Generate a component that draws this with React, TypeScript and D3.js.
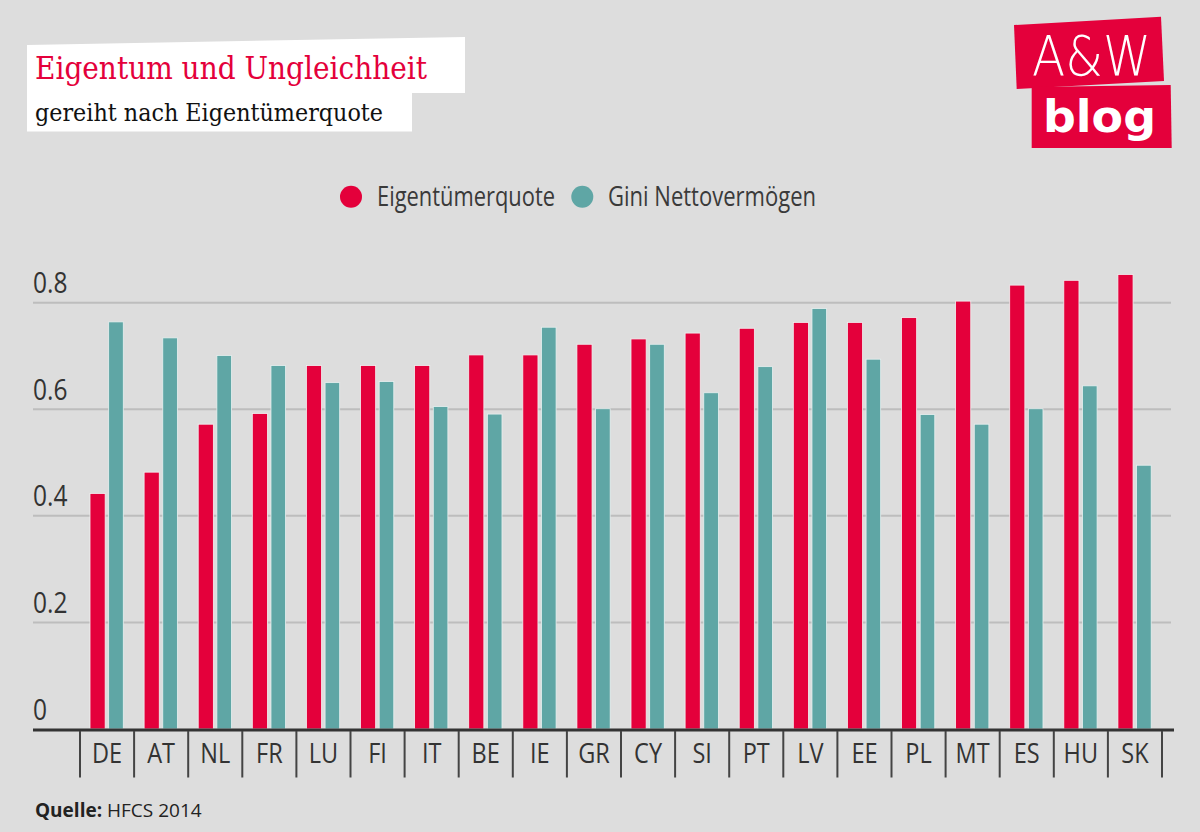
import React from "react";
import * as d3 from "d3";

const countries = ["DE","AT","NL","FR","LU","FI","IT","BE","IE","GR","CY","SI","PT","LV","EE","PL","MT","ES","HU","SK"];
const eigentuemerquote = [0.442,0.482,0.572,0.592,0.682,0.682,0.682,0.702,0.702,0.722,0.732,0.743,0.752,0.763,0.763,0.772,0.803,0.833,0.842,0.853];
const giniNetto = [0.764,0.734,0.701,0.682,0.650,0.652,0.605,0.591,0.754,0.601,0.722,0.631,0.680,0.789,0.694,0.590,0.572,0.601,0.644,0.495];
const yTicks = [0, 0.2, 0.4, 0.6, 0.8];
const seriesNames = ["Eigentümerquote", "Gini Nettovermögen"];

const RED = "#e4003b";
const TEAL = "#5fa6a5";
const BG = "#dddddd";

export default function App() {
  const W = 1200, H = 832;
  const x = d3.scaleBand<string>().domain(countries).range([80, 1162]).padding(0);
  const y = d3.scaleLinear().domain([0, 0.8]).range([729, 302.7]);
  const bw = x.bandwidth();
  const sans = "'Open Sans', 'Noto Sans', sans-serif";
  const logo = "'DejaVu Sans', sans-serif";

  return (
    <svg width={W} height={H} style={{ position: "absolute", left: 0, top: 0, display: "block" }} xmlns="http://www.w3.org/2000/svg">
      <rect x={0} y={0} width={W} height={H} fill={BG} />

      {/* Title boxes */}
      <polygon points="27,45 465,37 465,93 27,93" fill="#fff" />
      <rect x={27} y={93} width={385} height={38.5} fill="#fff" />
      <text x={35} y={78.5} fill={RED} fontFamily="'DejaVu Serif', serif" fontSize={31.5} textLength={392} lengthAdjust="spacingAndGlyphs">Eigentum und Ungleichheit</text>
      <text x={35} y={120.5} fill="#111" fontFamily="'DejaVu Serif', serif" fontSize={23.5} textLength={348} lengthAdjust="spacingAndGlyphs">gereiht nach Eigentümerquote</text>

      {/* Logo */}
      <polygon points="1014,25 1161,16.7 1164,81 1016.7,89" fill={RED} />
      <polygon points="1031.7,87 1170.7,85 1171.7,148 1031.7,148" fill={RED} />
      <text x={1032} y={75} fill="#fff" fontFamily={logo} fontWeight={200} fontSize={56} textLength={119} lengthAdjust="spacingAndGlyphs">A&amp;W</text>
      <text x={1043} y={131.5} fill="#fff" fontFamily={logo} fontWeight={700} fontSize={45} textLength={113} lengthAdjust="spacingAndGlyphs">blog</text>

      {/* Legend */}
      <circle cx={351} cy={196.7} r={11} fill={RED} />
      <text x={377} y={206} fill="#3a3a3a" fontFamily={sans} fontSize={26.5} textLength={178} lengthAdjust="spacingAndGlyphs">{seriesNames[0]}</text>
      <circle cx={582.3} cy={196.7} r={11} fill={TEAL} />
      <text x={608} y={206} fill="#3a3a3a" fontFamily={sans} fontSize={26.5} textLength={208} lengthAdjust="spacingAndGlyphs">{seriesNames[1]}</text>

      {/* Gridlines & y labels */}
      {yTicks.map((t) => (
        <g key={t}>
          {t > 0 && <line x1={33} x2={1171} y1={y(t)} y2={y(t)} stroke="#bdbdbd" strokeWidth={2} />}
          <text transform={`translate(33,${y(t) - 9.5}) scale(0.86,1)`} fill="#333" fontFamily={sans} fontSize={28.5}>{t === 0 ? "0" : d3.format(".1f")(t)}</text>
        </g>
      ))}

      {/* Bars */}
      {countries.map((c, i) => {
        const x0 = x(c)!;
        return (
          <g key={c}>
            <rect x={x0 + bw * 0.185} y={y(eigentuemerquote[i])} width={bw * 0.28} height={y(0) - y(eigentuemerquote[i])} fill={RED} stroke="#f2f2f2" strokeWidth={0.8} />
            <rect x={x0 + bw * 0.53} y={y(giniNetto[i])} width={bw * 0.27} height={y(0) - y(giniNetto[i])} fill={TEAL} stroke="#e8f0f0" strokeWidth={0.8} />
          </g>
        );
      })}

      {/* Axis */}
      <line x1={33} x2={1174} y1={730} y2={730} stroke="#333" strokeWidth={3} />
      {[...countries.map((c) => x(c)!), x.range()[1]].map((xx, i) => (
        <line key={i} x1={xx} x2={xx} y1={731} y2={777.5} stroke="#444" strokeWidth={2} />
      ))}
      {countries.map((c) => (
        <text key={c} transform={`translate(${x(c)! + bw / 2},763) scale(0.84,1)`} textAnchor="middle" fill="#333" fontFamily={sans} fontSize={28}>{c}</text>
      ))}

      {/* Source */}
      <text x={35} y={816.5} fill="#222" fontFamily={sans} fontSize={19}>
        <tspan fontWeight={700}>Quelle:</tspan>
        <tspan> HFCS 2014</tspan>
      </text>
    </svg>
  );
}
